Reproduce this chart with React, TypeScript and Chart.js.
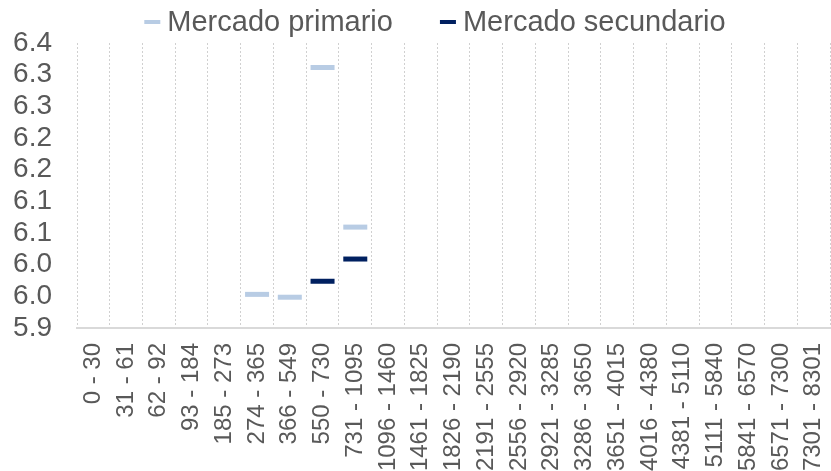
import React, { useEffect, useRef } from 'react';
import { Chart, registerables } from 'chart.js';

Chart.register(...registerables);

const categories: string[] = [
  '0 - 30', '31 - 61', '62 - 92', '93 - 184', '185 - 273', '274 - 365', '366 - 549',
  '550 - 730', '731 - 1095', '1096 - 1460', '1461 - 1825', '1826 - 2190', '2191 - 2555',
  '2556 - 2920', '2921 - 3285', '3286 - 3650', '3651 - 4015', '4016 - 4380', '4381 - 5110',
  '5111 - 5840', '5841 - 6570', '6571 - 7300', '7301 - 8301',
];

const primario: (number | null)[] = [
  null, null, null, null, null, 5.959, 5.954, 6.357, 6.077, null, null, null,
  null, null, null, null, null, null, null, null, null, null, null,
];

const secundario: (number | null)[] = [
  null, null, null, null, null, null, null, 5.982, 6.021, null, null, null,
  null, null, null, null, null, null, null, null, null, null, null,
];

const yTickValues: number[] = [5.9, 5.9556, 6.0111, 6.0667, 6.1222, 6.1778, 6.2333, 6.2889, 6.3444, 6.4];
const yTickLabels: string[] = ['5.9', '6.0', '6.0', '6.1', '6.1', '6.2', '6.2', '6.3', '6.3', '6.4'];
const yMin = 5.9;
const yMax = 6.4;

const FONT = "'Liberation Sans', Arial, sans-serif";
const TEXT = '#595959';
const PRIMARY_COLOR = '#b8cce4';
const SECONDARY_COLOR = '#002060';

export default function App() {
  const ref = useRef<HTMLCanvasElement | null>(null);

  useEffect(() => {
    if (!ref.current) return;

    const customLegend = {
      id: 'customLegend',
      afterDraw(chart: any) {
        const ctx = chart.ctx as CanvasRenderingContext2D;
        const markerW = 16;
        const markerH = 4;
        const gapText = 7;
        const gapItem = 47;
        const centerX = 435;
        const markerY = 22;
        const baseline = 31;
        ctx.save();
        ctx.font = `29px ${FONT}`;
        const items = chart.data.datasets.map((ds: any) => ({
          text: ds.label as string,
          color: ds.borderColor as string,
          w: ctx.measureText(ds.label).width,
        }));
        let total = 0;
        items.forEach((it: any, i: number) => {
          total += markerW + gapText + it.w + (i > 0 ? gapItem : 0);
        });
        let x = centerX - total / 2;
        items.forEach((it: any, i: number) => {
          if (i > 0) x += gapItem;
          ctx.fillStyle = it.color;
          ctx.fillRect(x, markerY - markerH / 2, markerW, markerH);
          x += markerW + gapText;
          ctx.fillStyle = TEXT;
          ctx.textAlign = 'left';
          ctx.textBaseline = 'alphabetic';
          ctx.fillText(it.text, x, baseline);
          x += it.w;
        });
        ctx.restore();
      },
    };

    const chart = new Chart(ref.current, {
      type: 'line',
      data: {
        labels: categories,
        datasets: [
          {
            label: 'Mercado primario',
            data: primario,
            showLine: false,
            borderColor: PRIMARY_COLOR,
            backgroundColor: PRIMARY_COLOR,
            pointStyle: 'line',
            pointRadius: 12,
            pointBorderWidth: 5,
            pointBorderColor: PRIMARY_COLOR,
            borderWidth: 5,
          },
          {
            label: 'Mercado secundario',
            data: secundario,
            showLine: false,
            borderColor: SECONDARY_COLOR,
            backgroundColor: SECONDARY_COLOR,
            pointStyle: 'line',
            pointRadius: 12,
            pointBorderWidth: 5,
            pointBorderColor: SECONDARY_COLOR,
            borderWidth: 5,
          },
        ],
      },
      plugins: [customLegend],
      options: {
        animation: false,
        responsive: true,
        maintainAspectRatio: false,
        layout: { autoPadding: false, padding: { left: 0, right: 1, top: 43, bottom: 0 } },
        plugins: {
          tooltip: { enabled: false },
          legend: { display: false },
        },
        scales: {
          x: {
            type: 'category',
            offset: true,
            grid: {
              display: true,
              offset: true,
              drawTicks: false,
              color: '#d0d0d0',
              lineWidth: 1,
            },
            border: { display: true, color: '#d9d9d9', width: 2, dash: [2, 2] },
            ticks: {
              autoSkip: false,
              maxRotation: 90,
              minRotation: 90,
              padding: 15,
              color: TEXT,
              font: { family: FONT, size: 24 },
            },
            afterFit: (scale: any) => {
              scale.height = 143;
              scale.paddingLeft = 0;
              scale.paddingRight = 0;
            },
          },
          y: {
            min: yMin,
            max: yMax,
            grid: { display: false, drawTicks: false },
            border: { display: false },
            ticks: {
              autoSkip: false,
              padding: 25,
              color: TEXT,
              font: { family: FONT, size: 28, lineHeight: 1.0 },
              callback: (_v: any, i: number) => yTickLabels[i],
            },
            afterBuildTicks: (scale: any) => {
              scale.ticks = yTickValues.map((v) => ({ value: v }));
            },
            afterFit: (scale: any) => {
              scale.width = 77;
            },
          },
        },
      },
    });
    return () => chart.destroy();
  }, []);

  return (
    <div style={{ position: 'fixed', left: 0, top: 0, width: 831, height: 471 }}>
      <canvas ref={ref} />
    </div>
  );
}
